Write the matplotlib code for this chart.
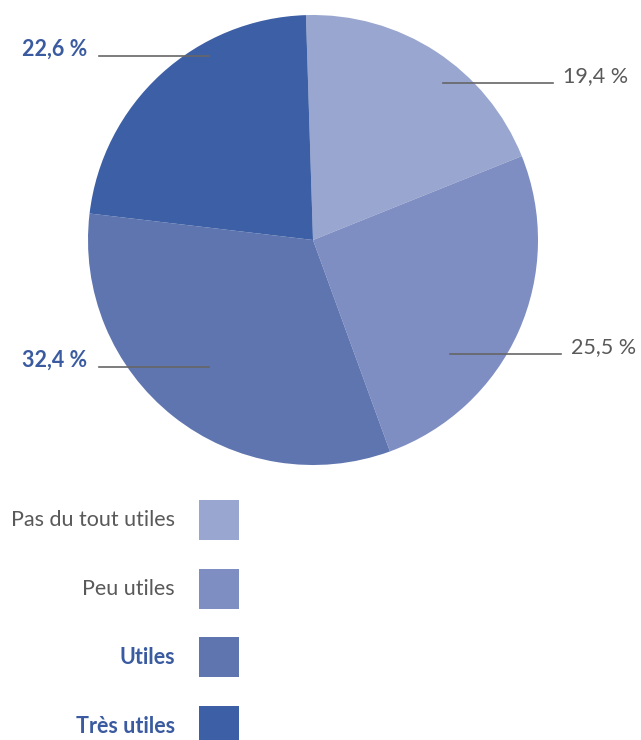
import numpy as np
import matplotlib.pyplot as plt
from matplotlib.patches import Rectangle

# data
categories = ["Pas du tout utiles", "Peu utiles", "Utiles", "Très utiles"]
values = [19.4, 25.5, 32.4, 22.6]
value_labels = ["19,4 %", "25,5 %", "32,4 %", "22,6 %"]

# style
colors = ["#99A6CF", "#7F8EC2", "#5F75AF", "#3D5FA5"]
gray = "#595959"
blue = "#3B5BA0"
label_bold = [False, False, True, True]
plt.rcParams['font.family'] = ['Lato', 'DejaVu Sans']

W, H = 641, 740
fig = plt.figure(figsize=(W / 100, H / 100), dpi=100)
ax = fig.add_axes([0, 0, 1, 1])
ax.set_xlim(0, W)
ax.set_ylim(0, H)
ax.set_aspect('equal')
ax.axis('off')

cx, cy, r = 313, H - 240, 225
ax.pie(values, colors=colors, center=(cx, cy), radius=r,
       startangle=91.8, counterclock=False,
       wedgeprops=dict(linewidth=0))
ax.set_xlim(0, W)
ax.set_ylim(0, H)

# leader lines (start x, end x, y in px from top) and label side
leaders = [(443, 553, 83, 'left'), (450, 561, 354, 'left'),
           (209, 99, 367, 'right'), (209, 99, 56, 'right')]
for (x0, x1, y, ha), lab, bold in zip(leaders, value_labels, label_bold):
    ax.plot([x0, x1], [H - y, H - y], color="#666666", lw=1.2)
    tx = x1 + 10 if ha == 'left' else x1 - 12
    ax.text(tx, H - y + 7, lab, ha=ha, va='center', fontsize=15.5,
            color=blue if bold else gray,
            fontweight='bold' if bold else 'normal')

# legend
for i, (cat, col, bold) in enumerate(zip(categories, colors, label_bold)):
    yc = 520 + i * 68.7
    ax.add_patch(Rectangle((199, H - yc - 20), 40, 40, color=col, lw=0))
    ax.text(175, H - yc, cat, ha='right', va='center', fontsize=15.5,
            color=blue if bold else gray,
            fontweight='bold' if bold else 'normal')

fig.savefig("out.png", dpi=100)
